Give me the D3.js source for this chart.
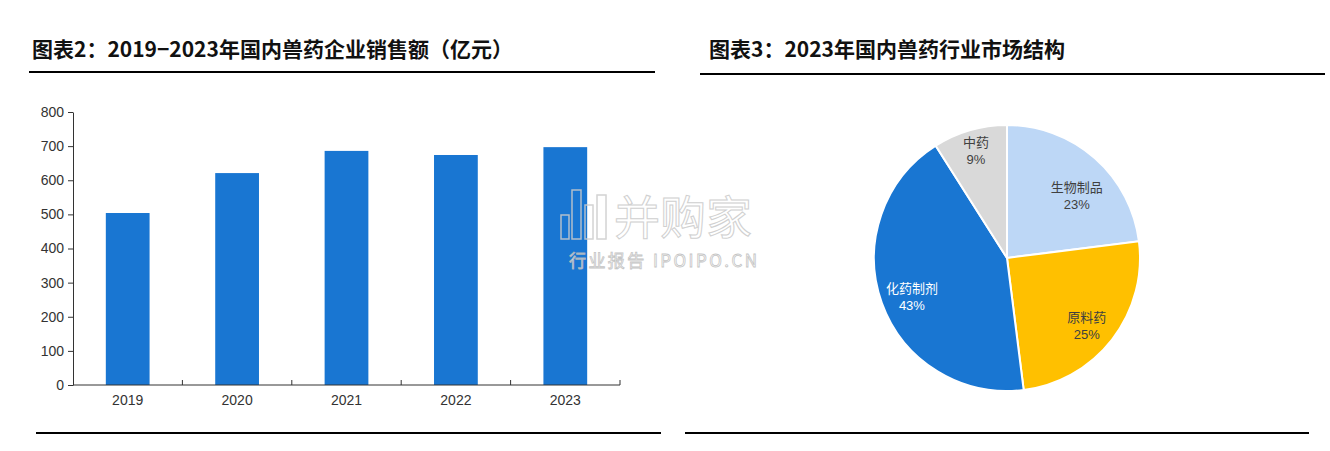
<!DOCTYPE html>
<html><head><meta charset="utf-8">
<script src="https://cdn.jsdelivr.net/npm/d3@7"></script>
<style>
body{margin:0;background:#fff;}
svg{display:block;font-family:"Noto Sans CJK SC","Noto Sans",Arial,sans-serif;}
</style></head>
<body><svg id="c" width="1330" height="451"></svg>
<script>
const years = ["2019","2020","2021","2022","2023"];
const sales = [504, 621, 686, 674, 697];
const yTicks = [0,100,200,300,400,500,600,700,800];
const segNames = ["生物制品","原料药","化药制剂","中药"];
const segShares = [23, 25, 43, 9];
const segColors = ["#BDD7F6","#FFC000","#1976D2","#D9D9D9"];
const segLabelColors = ["#404040","#404040","#ffffff","#404040"];

const svg = d3.select("#c");

// titles and rules
svg.append("text").attr("x",32).attr("y",57).attr("font-size",21).attr("font-weight",600).attr("fill","#111")
  .text("图表2：2019−2023年国内兽药企业销售额（亿元）");
svg.append("text").attr("x",709).attr("y",57).attr("font-size",21).attr("font-weight",600).attr("fill","#111")
  .text("图表3：2023年国内兽药行业市场结构");
svg.append("line").attr("x1",29).attr("x2",655).attr("y1",72).attr("y2",72).attr("stroke","#000").attr("stroke-width",2);
svg.append("line").attr("x1",700).attr("x2",1325).attr("y1",74).attr("y2",74).attr("stroke","#000").attr("stroke-width",2);
svg.append("line").attr("x1",36).attr("x2",661).attr("y1",433).attr("y2",433).attr("stroke","#000").attr("stroke-width",2);
svg.append("line").attr("x1",685).attr("x2",1309).attr("y1",433).attr("y2",433).attr("stroke","#000").attr("stroke-width",2);

// bar chart
const x = d3.scaleBand().domain(years).range([73,620]).paddingInner(0.6).paddingOuter(0.3);
const y = d3.scaleLinear().domain([0,800]).range([385,112]);
const g = svg.append("g");
g.selectAll("rect").data(years).join("rect")
  .attr("x",d=>x(d)).attr("width",x.bandwidth())
  .attr("y",(d,i)=>y(sales[i])).attr("height",(d,i)=>y(0)-y(sales[i]))
  .attr("fill","#1976D2");

const yAxis = g.append("g").attr("transform","translate(73,0)")
  .call(d3.axisLeft(y).tickValues(yTicks).tickSize(5).tickSizeOuter(0));
yAxis.select(".domain").attr("stroke","#333");
yAxis.selectAll(".tick line").attr("stroke","#333");
yAxis.selectAll("text").attr("font-size",14).attr("fill","#333").attr("font-family","Arial, 'Liberation Sans', sans-serif").attr("dx",-1);

const xAxis = g.append("g").attr("transform","translate(0,385)")
  .call(d3.axisBottom(x).tickSize(0).tickPadding(10));
xAxis.select(".domain").attr("d","M73,0H620").attr("stroke","#333");
xAxis.selectAll("text").attr("font-size",14).attr("fill","#333").attr("font-family","Arial, 'Liberation Sans', sans-serif");
// category boundary ticks (pointing up)
const [r0, r1] = x.range();
const stepW = (r1 - r0) / years.length;
g.selectAll(".bt").data(d3.range(1,years.length+1)).join("line")
  .attr("x1",i=>r0 + i*stepW).attr("x2",i=>r0 + i*stepW)
  .attr("y1",380).attr("y2",385).attr("stroke","#333");

// pie chart
const cx = 1007, cy = 258, R = 133;
const pie = d3.pie().sort(null).value(d=>d)(segShares);
const arc = d3.arc().innerRadius(0).outerRadius(R);
const labelArc = d3.arc().innerRadius(R*0.76).outerRadius(R*0.76);
const nudge = [[3,11],[0,3],[0,2],[0,-3]];
const pg = svg.append("g").attr("transform",`translate(${cx},${cy})`);
pg.selectAll("path").data(pie).join("path")
  .attr("d",arc).attr("fill",(d,i)=>segColors[i]).attr("stroke","#fff").attr("stroke-width",2);
const lab = pg.selectAll("g.lab").data(pie).join("g").attr("class","lab")
  .attr("transform",(d,i)=>{const c=labelArc.centroid(d); const k = i===3?1.1:1; return `translate(${c[0]*k+nudge[i][0]},${c[1]*k+nudge[i][1]})`;});
lab.append("text").attr("text-anchor","middle").attr("y",-1).attr("font-size",13)
  .attr("fill",(d,i)=>segLabelColors[i]).text((d,i)=>segNames[i]);
lab.append("text").attr("text-anchor","middle").attr("y",16).attr("font-size",13)
  .attr("font-family","Arial, 'Liberation Sans', sans-serif")
  .attr("fill",(d,i)=>segLabelColors[i]).text((d,i)=>segShares[i]+"%");

// watermark
const wm = svg.append("g").attr("opacity",0.85);
wm.append("text").attr("x",614).attr("y",234).attr("font-size",46).attr("fill","#fff")
  .attr("stroke","#c8c8c8").attr("stroke-width",1).text("并购家");
wm.append("text").attr("x",569).attr("y",267).attr("font-size",17).attr("fill","#fff")
  .attr("textLength",188).attr("lengthAdjust","spacing")
  .attr("stroke","#bbb").attr("stroke-width",0.8).text("行业报告 IPOIPO.CN");
const icon = [[561,215,8,24],[572,190,9,49],[585,205,8,34],[597,195,9,44]];
wm.selectAll("rect.ic").data(icon).join("rect").attr("class","ic")
  .attr("x",d=>d[0]).attr("y",d=>d[1]).attr("width",d=>d[2]).attr("height",d=>d[3])
  .attr("fill","none").attr("stroke","#ccc").attr("stroke-width",1.5);
</script></body></html>
